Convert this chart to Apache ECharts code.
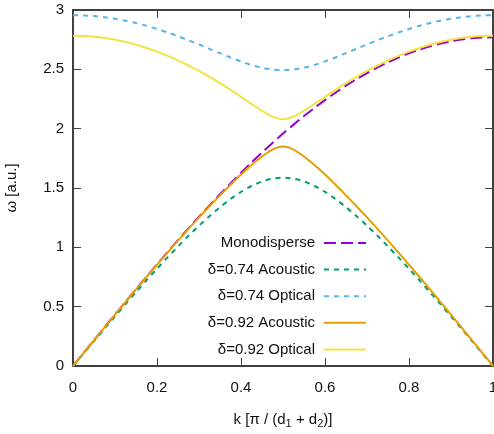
<!DOCTYPE html>
<html>
<head>
<meta charset="utf-8">
<script src="https://cdn.jsdelivr.net/npm/echarts@6/dist/echarts.min.js"></script>
<style>
  html, body { margin: 0; padding: 0; background: #fff; }
  #chart { width: 494px; height: 434px; }
</style>
</head>
<body>
<div id="chart"></div>
<script>
// Wave number, in units of pi / (d1 + d2)
const kValues = [0, 0.025, 0.05, 0.075, 0.1, 0.125, 0.15, 0.175, 0.2, 0.225,
                 0.25, 0.275, 0.3, 0.325, 0.35, 0.375, 0.4, 0.425, 0.45, 0.475,
                 0.5, 0.525, 0.55, 0.575, 0.6, 0.625, 0.65, 0.675, 0.7, 0.725,
                 0.75, 0.775, 0.8, 0.825, 0.85, 0.875, 0.9, 0.925, 0.95, 0.975, 1];

// Frequencies (a.u.) of each branch at the wave numbers above
const monodisperse = [0, 0.109, 0.217, 0.326, 0.433, 0.540, 0.647, 0.752, 0.856, 0.959,
                      1.060, 1.160, 1.258, 1.354, 1.447, 1.539, 1.628, 1.715, 1.799, 1.880,
                      1.959, 2.034, 2.106, 2.175, 2.241, 2.303, 2.362, 2.417, 2.468, 2.516,
                      2.559, 2.599, 2.635, 2.666, 2.694, 2.717, 2.736, 2.751, 2.761, 2.768, 2.770];
const acoustic074 = [0, 0.105, 0.210, 0.315, 0.418, 0.521, 0.622, 0.722, 0.819, 0.915,
                     1.007, 1.097, 1.182, 1.263, 1.338, 1.407, 1.467, 1.517, 1.555, 1.579,
                     1.587, 1.579, 1.555, 1.517, 1.467, 1.407, 1.338, 1.263, 1.182, 1.097,
                     1.007, 0.915, 0.819, 0.722, 0.622, 0.521, 0.418, 0.315, 0.210, 0.105, 0];
const optical074 = [2.956, 2.954, 2.949, 2.939, 2.927, 2.910, 2.890, 2.867, 2.840, 2.811,
                    2.779, 2.745, 2.710, 2.673, 2.636, 2.600, 2.567, 2.537, 2.514, 2.499,
                    2.494, 2.499, 2.514, 2.537, 2.567, 2.600, 2.636, 2.673, 2.710, 2.745,
                    2.779, 2.811, 2.840, 2.867, 2.890, 2.910, 2.927, 2.939, 2.949, 2.954, 2.956];
const acoustic092 = [0, 0.109, 0.217, 0.325, 0.432, 0.539, 0.645, 0.750, 0.853, 0.956,
                     1.056, 1.155, 1.252, 1.346, 1.438, 1.527, 1.613, 1.693, 1.766, 1.824,
                     1.849, 1.824, 1.766, 1.693, 1.613, 1.527, 1.438, 1.346, 1.252, 1.155,
                     1.056, 0.956, 0.853, 0.750, 0.645, 0.539, 0.432, 0.325, 0.217, 0.109, 0];
const optical092 = [2.783, 2.781, 2.775, 2.764, 2.749, 2.730, 2.707, 2.680, 2.649, 2.614,
                    2.575, 2.532, 2.486, 2.436, 2.383, 2.327, 2.268, 2.209, 2.151, 2.102,
                    2.080, 2.102, 2.151, 2.209, 2.268, 2.327, 2.383, 2.436, 2.486, 2.532,
                    2.575, 2.614, 2.649, 2.680, 2.707, 2.730, 2.749, 2.764, 2.775, 2.781, 2.783];

const seriesNames = ['Monodisperse', 'δ=0.74 Acoustic', 'δ=0.74 Optical',
                     'δ=0.92 Acoustic', 'δ=0.92 Optical'];

const FONT = 'Liberation Sans, Arial, Helvetica, sans-serif';

function pairs(ys) {
  return kValues.map((k, i) => [k, ys[i]]);
}

function curve(name, ys, color, dash) {
  return {
    name: name,
    type: 'line',
    data: pairs(ys),
    xAxisIndex: 0,
    yAxisIndex: 0,
    symbol: 'none',
    smooth: 0.3,
    lineStyle: { color: color, width: 2, type: dash || 'solid', cap: 'butt' },
    itemStyle: { color: color },
    emphasis: { disabled: true },
    animation: false
  };
}

const tickStyle = { color: '#444', width: 1 };

const chart = echarts.init(document.getElementById('chart'), null, { renderer: 'canvas' });
chart.setOption({
  backgroundColor: '#fff',
  animation: false,
  grid: { left: 73, top: 10, width: 420, height: 356, containLabel: false, outerBoundsMode: 'none' },
  legend: {
    data: seriesNames,
    orient: 'vertical',
    align: 'right',
    right: 127,
    top: 235.5,
    padding: 0,
    itemWidth: 42,
    itemHeight: 14,
    itemGap: 11.6,
    selectedMode: false,
    itemStyle: { opacity: 0 },
    textStyle: { fontFamily: FONT, fontSize: 15, color: '#111', lineHeight: 14, padding: [0, 4, 0, 0] }
  },
  xAxis: [
    {
      type: 'value', min: 0, max: 1, interval: 0.2, position: 'bottom',
      name: '{n|k [π / (d}{s|1}{n| + d}{s|2}{n|)]}',
      nameLocation: 'middle', nameGap: 44,
      nameTextStyle: {
        rich: {
          n: { fontFamily: FONT, fontSize: 15, color: '#111' },
          s: { fontFamily: FONT, fontSize: 11, color: '#111', padding: [8, 0, 0, 0] }
        }
      },
      axisLine: { show: true, onZero: false, lineStyle: { color: '#000', width: 1.5 } },
      axisTick: { show: true, inside: true, length: 8, lineStyle: tickStyle },
      axisLabel: { margin: 14, fontFamily: FONT, fontSize: 15, color: '#111',
                   formatter: v => String(+v.toFixed(1)) },
      splitLine: { show: false }
    },
    {
      type: 'value', min: 0, max: 1, interval: 0.2, position: 'top',
      axisLine: { show: true, onZero: false, lineStyle: { color: '#000', width: 1.5 } },
      axisTick: { show: true, inside: true, length: 8, lineStyle: tickStyle },
      axisLabel: { show: false },
      splitLine: { show: false }
    }
  ],
  yAxis: [
    {
      type: 'value', min: 0, max: 3, interval: 0.5, position: 'left',
      name: 'ω [a.u.]', nameLocation: 'middle', nameGap: 54, nameRotate: 90,
      nameTextStyle: { fontFamily: FONT, fontSize: 15, color: '#111' },
      axisLine: { show: true, onZero: false, lineStyle: { color: '#000', width: 1.5 } },
      axisTick: { show: true, inside: true, length: 8, lineStyle: tickStyle },
      axisLabel: { margin: 9, fontFamily: FONT, fontSize: 15, color: '#111' },
      splitLine: { show: false }
    },
    {
      type: 'value', min: 0, max: 3, interval: 0.5, position: 'right',
      axisLine: { show: true, onZero: false, lineStyle: { color: '#000', width: 1.5 } },
      axisTick: { show: true, inside: true, length: 8, lineStyle: tickStyle },
      axisLabel: { show: false },
      splitLine: { show: false }
    }
  ],
  series: [
    curve(seriesNames[0], monodisperse, '#9400d3', [12, 5]),
    curve(seriesNames[1], acoustic074, '#009e73', [5, 5]),
    curve(seriesNames[2], optical074, '#56b4e9', [5, 5]),
    curve(seriesNames[3], acoustic092, '#e69f00'),
    curve(seriesNames[4], optical092, '#f0e442')
  ]
});
</script>
</body>
</html>
